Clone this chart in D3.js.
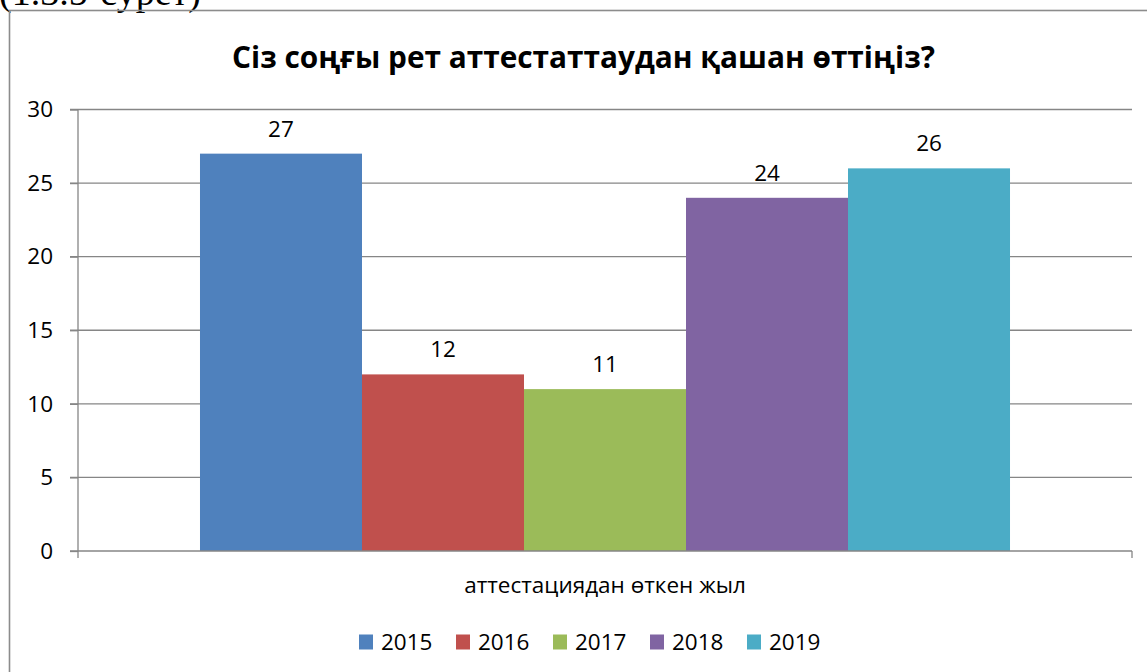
<!DOCTYPE html>
<html><head><meta charset="utf-8">
<script src="https://cdn.jsdelivr.net/npm/d3@7"></script>
<style>html,body{margin:0;padding:0;background:#fff;}svg{display:block;}</style>
</head><body>
<script>
const title = "Сіз соңғы рет аттестаттаудан қашан өттіңіз?";
const caption = "(1.3.5-сурет)";
const category = "аттестациядан өткен жыл";
const series = ["2015", "2016", "2017", "2018", "2019"];
const values = [27, 12, 11, 24, 26];
const colors = ["#4F81BD", "#C0504D", "#9BBB59", "#8064A2", "#4BACC6"];
const yTicks = [0, 5, 10, 15, 20, 25, 30];

const W = 1147, H = 672;
const svg = d3.select("body").append("svg").attr("width", W).attr("height", H);
const font = "'Open Sans', 'Noto Sans', sans-serif";
const fs = 22.5;

// caption partially cut at top
svg.append("text").attr("x", -1).attr("y", 5)
  .attr("font-family", "'Liberation Serif', serif").attr("font-size", 38)
  .attr("fill", "#000").text(caption);

// outer frame
svg.append("rect").attr("x", 9.5).attr("y", 10.5).attr("width", W + 10).attr("height", H + 10)
  .attr("fill", "none").attr("stroke", "#8c8c8c").attr("stroke-width", 1.6);

const pLeft = 78, pRight = 1132, pTop = 109.5, pBottom = 551;
const y = d3.scaleLinear().domain([0, 30]).range([pBottom, pTop]);
const x0 = d3.scaleBand().domain([category]).range([pLeft, pRight]).paddingOuter(0.1506).paddingInner(0);
const x1 = d3.scaleBand().domain(series).range([x0(category), x0(category) + x0.bandwidth()]).padding(0);

// gridlines
svg.append("g").selectAll("line").data(yTicks.filter(d => d > 0)).join("line")
  .attr("x1", pLeft - 8).attr("x2", pRight).attr("y1", d => y(d)).attr("y2", d => y(d))
  .attr("stroke", "#868686").attr("stroke-width", 1.3);

// bars
svg.append("g").selectAll("rect").data(series).join("rect")
  .attr("x", (d) => x1(d)).attr("width", x1.bandwidth())
  .attr("y", (d, i) => y(values[i])).attr("height", (d, i) => pBottom - y(values[i]))
  .attr("fill", (d, i) => colors[i]);

// value labels
svg.append("g").selectAll("text").data(series).join("text")
  .attr("x", d => x1(d) + x1.bandwidth() / 2)
  .attr("y", (d, i) => y(values[i]) - 17)
  .attr("text-anchor", "middle").attr("font-family", font).attr("font-size", fs).attr("fill", "#000")
  .text((d, i) => values[i]);

// y axis
const yAxis = d3.axisLeft(y).tickValues(yTicks).tickSize(8).tickPadding(17);
const gy = svg.append("g").attr("transform", `translate(${pLeft},0)`).call(yAxis);
gy.select(".domain").remove();
gy.selectAll(".tick line").attr("stroke", "#868686").attr("stroke-width", 1.3);
gy.selectAll(".tick text").attr("font-family", font).attr("font-size", fs).attr("fill", "#000");
svg.append("line").attr("x1", pLeft).attr("x2", pLeft).attr("y1", pTop).attr("y2", pBottom + 7)
  .attr("stroke", "#868686").attr("stroke-width", 1.3);

// x axis
const xAxis = d3.axisBottom(x0).tickSize(0).tickPadding(0);
const gx = svg.append("g").attr("transform", `translate(0,${pBottom})`).call(xAxis);
gx.select(".domain").remove();
gx.selectAll(".tick text").attr("font-family", font).attr("font-size", fs).attr("fill", "#000")
  .attr("dy", null).attr("y", 42);
svg.append("line").attr("x1", pLeft - 8).attr("x2", pRight).attr("y1", pBottom).attr("y2", pBottom)
  .attr("stroke", "#868686").attr("stroke-width", 1.3);
svg.append("line").attr("x1", pRight).attr("x2", pRight).attr("y1", pBottom).attr("y2", pBottom + 7)
  .attr("stroke", "#868686").attr("stroke-width", 1.3);

// title
svg.append("text").attr("x", 583.5).attr("y", 68).attr("text-anchor", "middle")
  .attr("font-family", font).attr("font-weight", "bold").attr("font-size", 29.8).attr("fill", "#000")
  .text(title);

// legend
const legendX = [359, 456, 553, 650, 747];
const lg = svg.append("g").selectAll("g").data(series).join("g")
  .attr("transform", (d, i) => `translate(${legendX[i]},634.5)`);
lg.append("rect").attr("width", 14).attr("height", 15).attr("fill", (d, i) => colors[i]);
lg.append("text").attr("x", 22).attr("y", 15.5).attr("font-family", font).attr("font-size", fs)
  .attr("fill", "#000").text(d => d);
</script>
</body></html>
